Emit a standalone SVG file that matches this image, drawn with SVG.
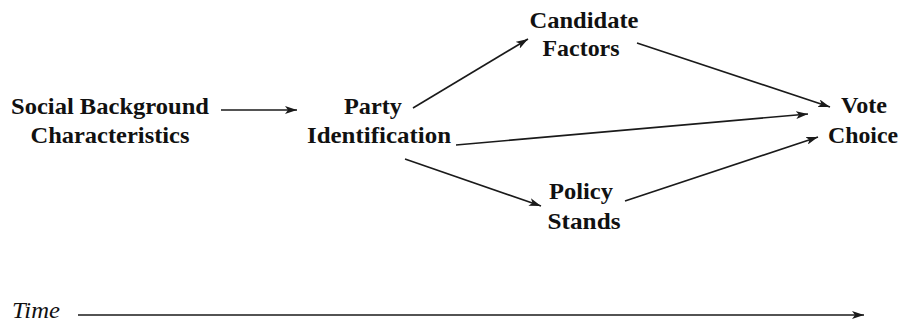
<svg xmlns="http://www.w3.org/2000/svg" width="900" height="325" viewBox="0 0 900 325">
<defs>
<style>
.t{font-family:"Liberation Serif","Times New Roman",serif;font-weight:bold;font-size:23px;fill:#111;text-anchor:middle}
.ti{font-family:"Liberation Serif","Times New Roman",serif;font-style:italic;font-size:24px;fill:#111}
.c{stroke:#1a1a1a;stroke-width:1.6;fill:none;marker-end:url(#ah)}
</style>
<marker id="ah" viewBox="0 0 12 8" refX="12" refY="4" markerWidth="12" markerHeight="8" markerUnits="userSpaceOnUse" orient="auto">
<path d="M0,0 L12,4 L0,8 L3,4 Z" fill="#1a1a1a"/>
</marker>
</defs>
<rect width="900" height="325" fill="#fff"/>
<g id="social">
<text class="t" x="110" y="114" textLength="198" lengthAdjust="spacingAndGlyphs">Social Background</text>
<text class="t" x="110" y="143" textLength="159" lengthAdjust="spacingAndGlyphs">Characteristics</text>
</g>
<g id="party">
<text class="t" x="373" y="114" textLength="58" lengthAdjust="spacingAndGlyphs">Party</text>
<text class="t" x="379" y="143" textLength="144" lengthAdjust="spacingAndGlyphs">Identification</text>
</g>
<g id="candidate">
<text class="t" x="584" y="28" textLength="109" lengthAdjust="spacingAndGlyphs">Candidate</text>
<text class="t" x="581" y="56" textLength="77" lengthAdjust="spacingAndGlyphs">Factors</text>
</g>
<g id="policy">
<text class="t" x="581" y="199" textLength="64" lengthAdjust="spacingAndGlyphs">Policy</text>
<text class="t" x="584" y="229" textLength="73" lengthAdjust="spacingAndGlyphs">Stands</text>
</g>
<g id="vote">
<text class="t" x="864" y="113" textLength="46" lengthAdjust="spacingAndGlyphs">Vote</text>
<text class="t" x="863" y="143" textLength="70" lengthAdjust="spacingAndGlyphs">Choice</text>
</g>
<g id="time">
<text class="ti" x="12" y="318" textLength="48" lengthAdjust="spacingAndGlyphs">Time</text>
</g>
<g id="connectors">
<line class="c" x1="221" y1="110" x2="297" y2="110"/>
<line class="c" x1="413" y1="108" x2="528" y2="39"/>
<line class="c" x1="637" y1="43" x2="830" y2="107"/>
<line class="c" x1="456" y1="145" x2="808" y2="114"/>
<line class="c" x1="405" y1="159" x2="541" y2="206"/>
<line class="c" x1="625" y1="201" x2="818" y2="137"/>
<line class="c" x1="78" y1="315" x2="864" y2="315"/>
</g>
</svg>
